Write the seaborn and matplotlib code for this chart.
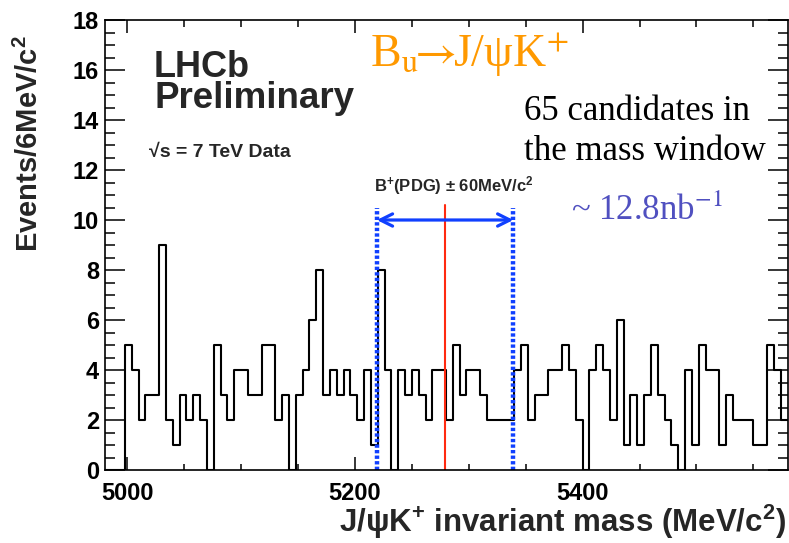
import numpy as np
import pandas as pd
import matplotlib
matplotlib.use("Agg")
import matplotlib.pyplot as plt
from matplotlib.ticker import MultipleLocator
import seaborn as sns

# ---------------- data ----------------
bin_low = 4980.0          # MeV/c^2
bin_width = 6.0           # MeV/c^2
counts = [0, 0, 0,
          5, 4, 2, 3, 3, 9, 2, 1, 3, 2, 3, 2, 0, 5, 3, 2, 4, 4, 3, 3, 5, 5, 2, 3, 0, 3, 4, 6, 8,
          3, 4, 3, 4, 3, 2, 4, 1, 8, 4, 0, 4, 3, 4, 3, 2, 4, 4, 2, 5, 3, 4, 4, 3, 2, 2, 2, 2, 4, 5, 2, 3, 3,
          4, 4, 5, 4, 2, 0, 4, 5, 4, 2, 6, 1, 3, 1, 3, 5, 3, 2, 1, 0, 4, 1, 5, 4, 4, 1, 3, 2, 2, 2, 1, 1, 5, 4, 2]
pdg_mass = 5279.2
window = 60.0
x_ticks = [5000, 5200, 5400]
y_ticks = [0, 2, 4, 6, 8, 10, 12, 14, 16, 18]
x_minor_step = 50
y_minor_step = 0.5
red_top = 10.6
dotted_top = 10.5
arrow_y = 10.0

bin_high = bin_low + bin_width * len(counts)
centers = bin_low + bin_width * (np.arange(len(counts)) + 0.5)
df = pd.DataFrame({"mass": centers, "n": counts})

# ---------------- style ----------------
sns.set_style("ticks")
plt.rcParams.update({
    "font.family": ["Liberation Sans", "DejaVu Sans"],
    "mathtext.fontset": "custom",
    "mathtext.rm": "Liberation Sans:bold",
    "mathtext.it": "Liberation Sans:italic:bold",
    "mathtext.bf": "Liberation Sans:bold",
    "mathtext.sf": "Liberation Sans:bold",
    "axes.edgecolor": "black",
    "axes.linewidth": 1.2,
})

W, H = 789, 543
ax_l, ax_r, ax_t, ax_b = 104.5, 787.5, 20, 470   # pixel frame
ax_w, ax_h = ax_r - ax_l, ax_b - ax_t
fig = plt.figure(figsize=(W / 100, H / 100), dpi=100)
ax = fig.add_axes([ax_l / W, 1 - ax_b / H, ax_w / W, ax_h / H])

sns.histplot(data=df, x="mass", weights="n", binwidth=bin_width, binrange=(bin_low, bin_high),
             element="step", fill=False, color="black", linewidth=1.5, ax=ax)

ax.set_xlim(bin_low, bin_high)
ax.set_ylim(0, 18)

ax.set_ylabel("Events/6MeV/c$^{2}$", fontsize=21, fontweight="bold", loc="top")
ax.yaxis.set_label_coords((44 - ax_l) / ax_w, (ax_b - 35) / ax_h)
ax.set_xlabel("J/ψK$^{+}$ invariant mass (MeV/c$^{2}$)", fontsize=22.5, fontweight="bold", loc="right")
ax.xaxis.set_label_coords((786 - ax_l) / ax_w, (ax_b - 503) / ax_h)

# mass window markers
blue = "#1040FF"
ax.plot([pdg_mass, pdg_mass], [0, red_top], color="#FF2A10", lw=1.5)
for xv in (pdg_mass - window, pdg_mass + window):
    ax.plot([xv, xv], [0, dotted_top], color=blue, lw=3.2, linestyle=(0, (0.75, 0.5)))
ax.annotate("", xy=(pdg_mass + window, arrow_y), xytext=(pdg_mass - window, arrow_y),
            arrowprops=dict(arrowstyle="<->", color=blue, lw=2.3, mutation_scale=22,
                            shrinkA=0, shrinkB=0))
ax.text(5286.6, 11.16, "B$^{+}$(PDG) ± 60MeV/c$^{2}$", fontsize=12, fontweight="bold",
        ha="center", va="baseline")

# annotations
ax.text(5023.5, 15.72, "LHCb", fontsize=26, fontweight="bold", va="baseline")
ax.text(5023.5, 14.46, "Preliminary", fontsize=26.5, fontweight="bold", va="baseline")
ax.text(5019.5, 12.52, "√s = 7 TeV Data", fontsize=14, fontweight="bold", va="baseline")

serif = ["Liberation Serif", "DejaVu Serif"]
ax.text(5212.9, 16.12, r"B$_{\mathrm{u}}\!\!\rightarrow\!\!$J/ψK$^{+}$", fontsize=33, family=serif,
        fontweight="normal", math_fontfamily="stix", color="#FF9900", va="baseline")
ax.text(5348.9, 14.0, "65 candidates in", fontsize=25, family=serif, fontweight="normal",
        color="black", va="baseline")
ax.text(5348.9, 12.4, "the mass window", fontsize=25, family=serif, fontweight="normal",
        color="black", va="baseline")
ax.text(5389.9, 10.0, "~ 12.8nb$^{-1}$", fontsize=25, family=serif, fontweight="normal",
        math_fontfamily="stix", color="#5050C0", va="baseline")

# ---------------- ticks (ROOT style, inward on all four sides) ----------------
ax.set_xticks(x_ticks)
ax.set_yticks(y_ticks)
ax.tick_params(which="both", direction="in", length=0, labelcolor="black")
ax.tick_params(axis="x", which="major", pad=9, labelsize=17)
ax.tick_params(axis="y", which="major", pad=4, labelsize=17)
for lab in ax.get_xticklabels() + ax.get_yticklabels():
    lab.set_fontweight("bold")

xlo, xhi = ax.get_xlim()
ylo, yhi = ax.get_ylim()
x_major = [v for v in ax.get_xticks() if xlo <= v <= xhi]
y_major = [v for v in ax.get_yticks() if ylo <= v <= yhi]
x_minor = [v for v in MultipleLocator(x_minor_step).tick_values(xlo, xhi)
           if xlo < v < xhi and min(abs(v - m) for m in x_major) > 1e-6]
y_minor = [v for v in MultipleLocator(y_minor_step).tick_values(ylo, yhi)
           if ylo < v < yhi and min(abs(v - m) for m in y_major) > 1e-6]

tick_kw = dict(color="black", lw=1.1, clip_on=False, zorder=5)
xt = ax.get_xaxis_transform()
yt = ax.get_yaxis_transform()
for vals, length_px in ((x_major, 13.0), (x_minor, 6.5)):
    f = length_px / ax_h
    ax.vlines(vals, 0, f, transform=xt, **tick_kw)
    ax.vlines(vals, 1 - f, 1, transform=xt, **tick_kw)
for vals, length_px in ((y_major, 20.0), (y_minor, 10.0)):
    f = length_px / ax_w
    ax.hlines(vals, 0, f, transform=yt, **tick_kw)
    ax.hlines(vals, 1 - f, 1, transform=yt, **tick_kw)

fig.savefig("out.png", dpi=100)
